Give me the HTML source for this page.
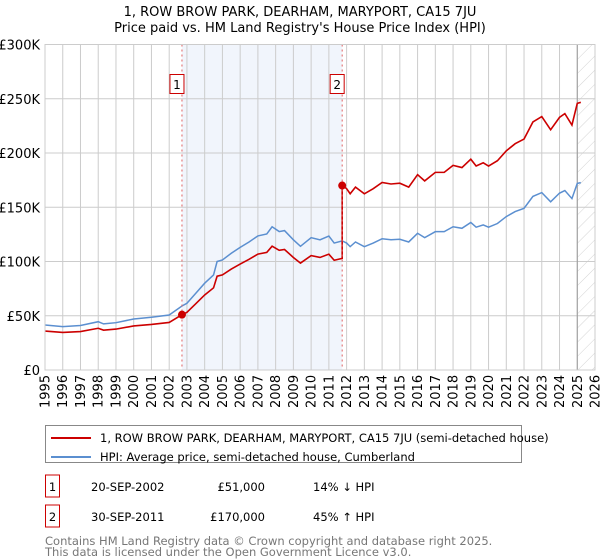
<!DOCTYPE html>
<html><head><meta charset="utf-8">
<style>
body{margin:0;background:#fff;font-family:"Liberation Sans","DejaVu Sans",sans-serif;}
#wrap{position:relative;width:600px;height:560px;overflow:hidden;}
svg text{font-family:"DejaVu Sans","Liberation Sans",sans-serif;}
</style></head>
<body><div id="wrap">
<svg id="chart" width="600" height="560"></svg>
</div>
<script>
const hpiYears=[1995,1996,1997,1998,1998.3,1999,2000,2001,2002,2002.72,2003,2003.5,2004,2004.5,2004.7,2005,2005.5,2006,2006.5,2007,2007.5,2007.8,2008.2,2008.5,2009,2009.4,2010,2010.5,2011,2011.3,2011.75,2012,2012.2,2012.5,2013,2013.5,2014,2014.5,2015,2015.5,2016,2016.4,2017,2017.5,2018,2018.5,2019,2019.3,2019.7,2020,2020.5,2021,2021.5,2022,2022.5,2023,2023.5,2024,2024.3,2024.7,2025,2025.2];
const hpiValues=[41.5,40,41,44.5,42.5,43.6,47,48.6,50.7,59,61.5,70.7,80,87.6,100,101.4,107.6,113,118,123.6,125.4,132,127.6,128.5,120,114,122,120,123.5,117,119,117,113.7,118,113.7,117,121,120,120.5,118,126,122,127.5,127.5,132,130.6,136,131.6,133.7,131.6,135,141.4,146,149,160,163.5,155,163,165.4,158,172,172.7];
const saleDates=[2002.72,2011.75];
const salePrices=[51,170];
const saleLabels=["1","2"];
const yTicks=[0,50,100,150,200,250,300];
const yTickLabels=["£0","£50K","£100K","£150K","£200K","£250K","£300K"];
const xTicks=[];for(let y=1995;y<=2026;y++)xTicks.push(y);

const NS="http://www.w3.org/2000/svg";
const svg=document.getElementById('chart');
const L=45,R=595,T=44.5,B=370;
const X=y=>L+(y-1995)/(2026-1995)*(R-L);
const Y=v=>B-v/300*(B-T);
function el(t,a,p){const e=document.createElementNS(NS,t);for(const k in a)e.setAttribute(k,a[k]);(p||svg).appendChild(e);return e;}

const defs=el('defs',{});
const pat=el('pattern',{id:'hatch',width:10,height:10,patternUnits:'userSpaceOnUse',patternTransform:'rotate(45)'},defs);
el('line',{x1:0,y1:0,x2:0,y2:10,stroke:'#d4d4d4','stroke-width':1},pat);

let t=el('text',{x:300,y:16,'text-anchor':'middle','font-size':13,fill:'#000'});t.textContent="1, ROW BROW PARK, DEARHAM, MARYPORT, CA15 7JU";

t=el('text',{x:300,y:32,'text-anchor':'middle','font-size':13,fill:'#000'});t.textContent="Price paid vs. HM Land Registry's House Price Index (HPI)";


let sh=el('rect',{x:X(saleDates[0]),y:T,width:X(saleDates[1])-X(saleDates[0]),height:B-T,fill:'#eef2fb',opacity:0.8});

let hz=el('rect',{x:X(2025),y:T,width:R-X(2025),height:B-T,fill:'url(#hatch)'});


xTicks.forEach(y=>{const g=el('line',{x1:X(y),x2:X(y),y1:T,y2:B,stroke:'#ccc','stroke-width':1});

const tx=el('text',{transform:`translate(${X(y)+4.5},${B+38}) rotate(-90)`,'font-size':13,fill:'#000'});tx.textContent=y;
});
yTicks.forEach((v,i)=>{const g=el('line',{x1:L,x2:R,y1:Y(v),y2:Y(v),stroke:'#ccc','stroke-width':1});

const tx=el('text',{x:40,y:Y(v)+5,'text-anchor':'end','font-size':13,fill:'#000'});tx.textContent=yTickLabels[i];
});
let vl=el('line',{x1:X(2025),x2:X(2025),y1:T,y2:B,stroke:'#999','stroke-width':1});


function hpiAt(d){for(let i=0;i<hpiYears.length-1;i++){if(d<=hpiYears[i+1]){const f=(d-hpiYears[i])/(hpiYears[i+1]-hpiYears[i]);return hpiValues[i]+f*(hpiValues[i+1]-hpiValues[i]);}}return hpiValues[hpiValues.length-1];}

let pts=hpiYears.map((y,i)=>X(y)+','+Y(hpiValues[i])).join(' ');
let hl=el('polyline',{points:pts,fill:'none',stroke:'#5b8fd0','stroke-width':1.5});


const r1=salePrices[0]/hpiAt(saleDates[0]), r2=salePrices[1]/hpiAt(saleDates[1]);
let rp=[];
hpiYears.forEach((y,i)=>{if(y<saleDates[1])rp.push([y,hpiValues[i]*r1]);});
rp.push([saleDates[1],hpiAt(saleDates[1])*r1]);
rp.push([saleDates[1],salePrices[1]]);
hpiYears.forEach((y,i)=>{if(y>saleDates[1])rp.push([y,hpiValues[i]*r2]);});
let pl=el('polyline',{points:rp.map(p=>X(p[0])+','+Y(p[1])).join(' '),fill:'none',stroke:'#cc0000','stroke-width':1.6});


saleDates.forEach((d,i)=>{
const dl=el('line',{x1:X(d),x2:X(d),y1:T,y2:B,stroke:'#e06060','stroke-width':1,'stroke-dasharray':'2,3'});

const c=el('circle',{cx:X(d),cy:Y(salePrices[i]),r:4,fill:'#cc0000'});

const bx=el('rect',{x:X(d)-12,y:74.5,width:14,height:19,fill:'#fff',stroke:'#cc0000','stroke-width':1});

const tx=el('text',{x:X(d)-5,y:89,'text-anchor':'middle','font-size':12,fill:'#000'});tx.textContent=saleLabels[i];
});

let fr=el('rect',{x:L,y:T,width:R-L,height:B-T,fill:'none',stroke:'#ccc','stroke-width':1});


const lg=el('g',{});
el('rect',{x:45.5,y:425.5,width:476,height:37,fill:'#fff',stroke:'#888','stroke-width':1},lg);
el('line',{x1:51,x2:91,y1:438,y2:438,stroke:'#cc0000','stroke-width':2},lg);
el('line',{x1:51,x2:91,y1:457,y2:457,stroke:'#5b8fd0','stroke-width':2},lg);
t=el('text',{x:100,y:442,'font-size':11.5},lg);t.textContent="1, ROW BROW PARK, DEARHAM, MARYPORT, CA15 7JU (semi-detached house)";

t=el('text',{x:100,y:461,'font-size':11.5},lg);t.textContent="HPI: Average price, semi-detached house, Cumberland";


const rows=[["1","20-SEP-2002","£51,000","14% ↓ HPI"],["2","30-SEP-2011","£170,000","45% ↑ HPI"]];
rows.forEach((r,i)=>{const y=487+i*30;
const b=el('rect',{x:45.5,y:y-12,width:14,height:22,fill:'#fff',stroke:'#cc0000','stroke-width':1});

let a=el('text',{x:52.5,y:y+4,'text-anchor':'middle','font-size':11.5});a.textContent=r[0];
a=el('text',{x:91,y:y+4,'font-size':11.5});a.textContent=r[1];
a=el('text',{x:265,y:y+4,'text-anchor':'end','font-size':11.5});a.textContent=r[2];
a=el('text',{x:313,y:y+4,'font-size':11.5});a.textContent=r[3];});
t=el('text',{x:45,y:545,'font-size':11.5,fill:'#777'});t.textContent="Contains HM Land Registry data © Crown copyright and database right 2025.";

t=el('text',{x:45,y:556,'font-size':11.5,fill:'#777'});t.textContent="This data is licensed under the Open Government Licence v3.0.";

</script></body></html>
